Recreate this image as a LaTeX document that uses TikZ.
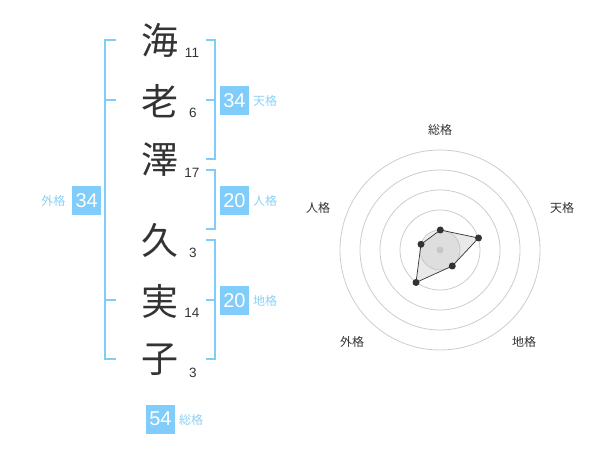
\documentclass[tikz,border=0pt]{standalone}
\usepackage{fontspec}
\setmainfont{Liberation Sans}
\newfontfamily\jp{Noto Sans CJK JP}
\definecolor{kblue}{RGB}{128,204,250}
\definecolor{klab}{RGB}{140,208,245}
\definecolor{kdark}{RGB}{51,51,51}
\definecolor{kgrid}{RGB}{204,204,204}
\begin{document}
\begin{tikzpicture}[x=1pt,y=-1pt,
  kanji/.style={inner sep=0pt,text=kdark,font=\jp\fontsize{37}{37}\selectfont},
  strokes/.style={inner sep=0pt,text=kdark,font=\fontsize{13.5}{13.5}\selectfont},
  valbox/.style={fill=kblue,text=white,minimum width=29pt,minimum height=29pt,inner sep=0pt,font=\fontsize{20}{20}\selectfont},
  kaku/.style={inner sep=0pt,text=klab,font=\jp\fontsize{12}{12}\selectfont},
  bracket/.style={draw=kblue,line width=2pt},
  ring/.style={draw=kgrid,line width=0.8pt},
  radlab/.style={inner sep=0pt,text=kdark,font=\jp\fontsize{12}{12}\selectfont},
  dot/.style={circle,fill=kdark,inner sep=0pt,minimum size=7pt}]
\useasboundingbox (0,0) rectangle (600,470);
% kanji
\node[kanji] (k1) at (160,40) {海};
\node[kanji] (k2) at (160,101) {老};
\node[kanji] (k3) at (160,160) {澤};
\node[kanji] (k4) at (160,240) {久};
\node[kanji] (k5) at (160,301) {実};
\node[kanji] (k6) at (160,360) {子};
% stroke counts
\node[strokes] (s1) at (192,53) {11};
\node[strokes] (s2) at (193,113) {6};
\node[strokes] (s3) at (192,173) {17};
\node[strokes] (s4) at (193,253) {3};
\node[strokes] (s5) at (192,313) {14};
\node[strokes] (s6) at (193,373) {3};
% brackets
\draw[bracket] (116,40) -- (105,40) -- (105,359.5) -- (116,359.5);
\draw[bracket] (105,100) -- (116,100);
\draw[bracket] (105,300) -- (116,300);
\draw[bracket] (205.5,40) -- (214.5,40) -- (214.5,159.5) -- (205.5,159.5);
\draw[bracket] (205.5,100) -- (214.5,100);
\draw[bracket] (205.5,170) -- (214.5,170) -- (214.5,229.5) -- (205.5,229.5);
\draw[bracket] (205.5,240) -- (214.5,240) -- (214.5,359.5) -- (205.5,359.5);
\draw[bracket] (205.5,300) -- (214.5,300);
% value boxes
\node[valbox] (ten) at (234.5,100.5) {34};
\node[kaku,anchor=west] (tenl) at (253,101) {天格};
\node[valbox] (jin) at (234.5,200.5) {20};
\node[kaku,anchor=west] (jinl) at (253,201) {人格};
\node[valbox] (chi) at (234.5,300.5) {20};
\node[kaku,anchor=west] (chil) at (253,301) {地格};
\node[valbox] (gai) at (86.7,200.5) {34};
\node[kaku,anchor=east] (gail) at (65.5,201) {外格};
\node[valbox] (sou) at (160.5,419) {54};
\node[kaku,anchor=west] (soul) at (179,420) {総格};
% radar
\coordinate (c) at (440,250);
\fill[fill=black!6] (c) circle[radius=20];
\foreach \r in {20,40,60,80,100} \draw[ring] (c) circle[radius=\r];
\fill[kgrid] (c) circle[radius=3.5];
\coordinate (pS) at (440.3,230);
\coordinate (pT) at (478.5,238);
\coordinate (pC) at (452.3,266);
\coordinate (pG) at (416,282.5);
\coordinate (pJ) at (421,244.3);
\draw[draw=kdark,line width=0.7pt,fill=black!25,fill opacity=0.35] (pS) -- (pT) -- (pC) -- (pG) -- (pJ) -- cycle;
\foreach \p in {pS,pT,pC,pG,pJ} \node[dot] at (\p) {};
\node[radlab] (rS) at (440,130) {総格};
\node[radlab] (rT) at (562,208) {天格};
\node[radlab] (rC) at (524,342) {地格};
\node[radlab] (rG) at (352,342) {外格};
\node[radlab] (rJ) at (318,208) {人格};
\end{tikzpicture}
\end{document}
